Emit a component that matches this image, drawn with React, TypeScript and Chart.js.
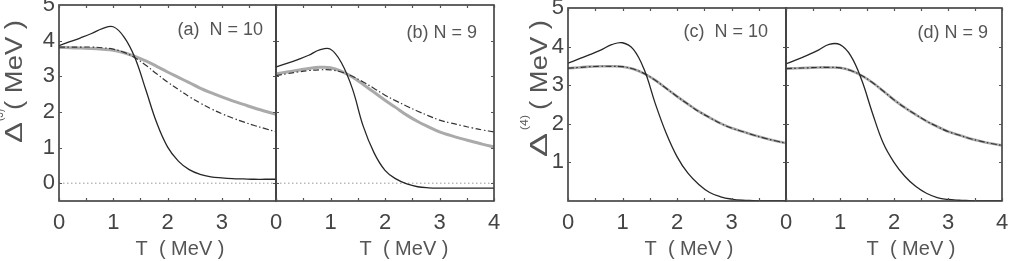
import React, { useEffect, useRef } from 'react';
import { Chart, registerables } from 'chart.js';

Chart.register(...registerables);

// ---------- data ----------
const T = [0, 0.2, 0.4, 0.6, 0.8, 1.0, 1.2, 1.4, 1.6, 1.8, 2.0, 2.2, 2.4, 2.6, 2.8, 3.0, 3.2, 3.4, 3.6, 3.8, 4.0];

const aSolid = [3.86, 3.97, 4.08, 4.2, 4.34, 4.39, 4.1, 3.52, 2.62, 1.7, 1.02, 0.62, 0.38, 0.25, 0.18, 0.15, 0.13, 0.12, 0.11, 0.11, 0.11];
const aGray = [3.81, 3.8, 3.79, 3.78, 3.76, 3.73, 3.66, 3.56, 3.43, 3.28, 3.12, 2.97, 2.82, 2.67, 2.54, 2.42, 2.31, 2.21, 2.11, 2.02, 1.93];
const aDashDot = [3.82, 3.82, 3.82, 3.82, 3.8, 3.76, 3.67, 3.52, 3.31, 3.07, 2.84, 2.63, 2.43, 2.25, 2.09, 1.95, 1.83, 1.72, 1.62, 1.53, 1.44];

const bSolid = [3.26, 3.36, 3.47, 3.59, 3.74, 3.76, 3.38, 2.66, 1.6, 0.85, 0.36, 0.12, -0.02, -0.1, -0.13, -0.14, -0.14, -0.14, -0.14, -0.14, -0.14];
const bGray = [3.07, 3.12, 3.17, 3.22, 3.25, 3.24, 3.14, 2.98, 2.77, 2.55, 2.33, 2.12, 1.91, 1.73, 1.58, 1.44, 1.34, 1.25, 1.17, 1.09, 1.02];
const bDashDot = [3.02, 3.07, 3.12, 3.16, 3.18, 3.18, 3.12, 3.0, 2.84, 2.66, 2.47, 2.31, 2.16, 2.02, 1.89, 1.77, 1.69, 1.62, 1.55, 1.49, 1.44];

const cSolid = [3.57, 3.68, 3.79, 3.91, 4.05, 4.1, 3.93, 3.4, 2.53, 1.76, 1.15, 0.72, 0.43, 0.22, 0.11, 0.05, 0.02, 0.01, 0.0, 0.0, 0.0];
const cGray = [3.44, 3.46, 3.48, 3.49, 3.49, 3.48, 3.42, 3.3, 3.13, 2.92, 2.71, 2.51, 2.32, 2.16, 2.01, 1.89, 1.8, 1.71, 1.63, 1.56, 1.5];
const cDashDot = [3.44, 3.46, 3.48, 3.49, 3.49, 3.48, 3.42, 3.3, 3.13, 2.92, 2.71, 2.51, 2.32, 2.16, 2.01, 1.89, 1.8, 1.71, 1.63, 1.56, 1.5];

const dSolid = [3.55, 3.66, 3.78, 3.91, 4.06, 4.05, 3.76, 3.14, 2.28, 1.5, 1.0, 0.64, 0.38, 0.2, 0.09, 0.04, 0.02, 0.01, 0.0, 0.0, 0.0];
const dGray = [3.43, 3.44, 3.45, 3.46, 3.46, 3.45, 3.38, 3.25, 3.07, 2.85, 2.62, 2.42, 2.24, 2.07, 1.93, 1.8, 1.71, 1.62, 1.55, 1.49, 1.44];
const dDashDot = [3.43, 3.44, 3.45, 3.46, 3.46, 3.45, 3.38, 3.25, 3.07, 2.85, 2.62, 2.42, 2.24, 2.07, 1.93, 1.8, 1.71, 1.62, 1.55, 1.49, 1.44];

const zeroT = [0, 4];
const zeroLine = [0, 0];

const xTicks = [0, 1, 2, 3, 4];
const xMinorTicks = [0, 0.5, 1, 1.5, 2, 2.5, 3, 3.5, 4];
const yTicks3 = [0, 1, 2, 3, 4, 5];
const yTicks4 = [1, 2, 3, 4, 5];
const yMarks3 = [0, 1, 2, 3, 4];
const yMarks4 = [1, 2, 3, 4];

const panelLabels = ['(a)  N = 10', '(b) N = 9', '(c)  N = 10', '(d) N = 9'];
const xTitle = 'T  ( MeV )';
const yTitleMain = '( MeV )';
const yTitleDelta = 'Δ';
const yTitleSup3 = '(3)';
const yTitleSup4 = '(4)';

// ---------- layout / style ----------
const FONT = '"Liberation Sans", Arial, sans-serif';
const TXT = '#555';

type YTitle = { sup: string; baseX: number; deltaStart: number; deltaLen: number; supStart: number; supLen: number; mainStart: number; mainEnd: number };
type Panel = {
  label: string; left: number; yWidth: number; right: number; top: number;
  yMin: number; yMax: number; yTicks: number[]; yMarks: number[]; showYLabels: boolean; hideLastX: boolean;
  labelRight: number; labelBase: number; xTitleCenter: number;
  solid: number[]; gray: number[]; dashDot: number[]; zero: boolean; grayColor: string; grayWidth: number;
  yTitle?: YTitle;
};

const panels: Panel[] = [
  { label: panelLabels[0], left: 0, yWidth: 59, right: 276, top: 5, yMin: -0.5, yMax: 5, yTicks: yTicks3, yMarks: yMarks3, showYLabels: true, hideLastX: true,
    labelRight: 263, labelBase: 35, xTitleCenter: 180, solid: aSolid, gray: aGray, dashDot: aDashDot, zero: true, grayColor: '#aaaaaa', grayWidth: 3,
    yTitle: { sup: yTitleSup3, baseX: 22, deltaStart: 143, deltaLen: 21, supStart: 121, supLen: 12, mainStart: 110, mainEnd: 20 } },
  { label: panelLabels[1], left: 276, yWidth: 0, right: 494, top: 5, yMin: -0.5, yMax: 5, yTicks: yTicks3, yMarks: yMarks3, showYLabels: false, hideLastX: false,
    labelRight: 477, labelBase: 38, xTitleCenter: 404, solid: bSolid, gray: bGray, dashDot: bDashDot, zero: true, grayColor: '#aaaaaa', grayWidth: 3 },
  { label: panelLabels[2], left: 0, yWidth: 568, right: 786, top: 8, yMin: 0, yMax: 5, yTicks: yTicks4, yMarks: yMarks4, showYLabels: true, hideLastX: true,
    labelRight: 768, labelBase: 37, xTitleCenter: 689, solid: cSolid, gray: cGray, dashDot: cDashDot, zero: false, grayColor: '#a8a8a8', grayWidth: 2.6,
    yTitle: { sup: yTitleSup4, baseX: 547, deltaStart: 157, deltaLen: 24, supStart: 130, supLen: 15, mainStart: 110, mainEnd: 20 } },
  { label: panelLabels[3], left: 786, yWidth: 0, right: 1002, top: 8, yMin: 0, yMax: 5, yTicks: yTicks4, yMarks: yMarks4, showYLabels: false, hideLastX: false,
    labelRight: 988, labelBase: 38, xTitleCenter: 911, solid: dSolid, gray: dGray, dashDot: dDashDot, zero: false, grayColor: '#a8a8a8', grayWidth: 2.6 },
];

const W = 1013;
const H = 261;
const BOTTOM = 201;

function fitText(ctx: CanvasRenderingContext2D, text: string, start: number, len: number, yOff: number, font: string) {
  ctx.save();
  ctx.font = font;
  const w = ctx.measureText(text).width;
  ctx.translate(start, yOff);
  ctx.scale(len / w, 1);
  ctx.textAlign = 'left';
  ctx.textBaseline = 'alphabetic';
  ctx.fillText(text, 0, 0);
  ctx.restore();
}

const framePlugin = {
  id: 'frame',
  afterDatasetsDraw(chart: any, _args: any, opts: any) {
    const p: Panel = opts.panel;
    const { ctx, chartArea: ca } = chart;
    const x = chart.scales.x;
    const y = chart.scales.y;
    ctx.save();
    ctx.strokeStyle = '#3c3c3c';
    ctx.lineWidth = 1.6;
    ctx.strokeRect(ca.left, ca.top, ca.right - ca.left, ca.bottom - ca.top);
    ctx.strokeStyle = '#555';
    ctx.lineWidth = 1.2;
    ctx.beginPath();
    for (const v of xMinorTicks) {
      const px = Math.round(x.getPixelForValue(v)) + 0.5;
      ctx.moveTo(px, ca.top); ctx.lineTo(px, ca.top + 3);
      ctx.moveTo(px, ca.bottom); ctx.lineTo(px, ca.bottom - 3);
    }
    for (const v of p.yMarks) {
      const py = Math.round(y.getPixelForValue(v)) + 0.5;
      ctx.moveTo(ca.left, py); ctx.lineTo(ca.left + 3, py);
      ctx.moveTo(ca.right, py); ctx.lineTo(ca.right - 3, py);
    }
    ctx.stroke();
    ctx.restore();
  },
  afterDraw(chart: any, _args: any, opts: any) {
    const p: Panel = opts.panel;
    const ctx: CanvasRenderingContext2D = chart.ctx;
    ctx.save();
    ctx.fillStyle = TXT;
    ctx.font = `18px ${FONT}`;
    ctx.textAlign = 'right';
    ctx.textBaseline = 'alphabetic';
    ctx.fillText(p.label, p.labelRight, p.labelBase);
    ctx.font = `20px ${FONT}`;
    ctx.textAlign = 'center';
    ctx.fillText(xTitle, p.xTitleCenter, 255);
    if (p.yTitle) {
      const t = p.yTitle;
      ctx.save();
      ctx.translate(t.baseX, 0);
      ctx.rotate(-Math.PI / 2);
      fitText(ctx, yTitleDelta, -t.deltaStart, t.deltaLen, 0, `23px ${FONT}`);
      fitText(ctx, t.sup, -t.supStart, t.supLen, -19, `11px ${FONT}`);
      fitText(ctx, yTitleMain, -t.mainStart, t.mainStart - t.mainEnd, 0, `23px ${FONT}`);
      ctx.restore();
    }
    ctx.restore();
  },
};

function pts(xs: number[], ys: number[]) {
  return xs.map((x, i) => ({ x, y: ys[i] }));
}

function makeChart(canvas: HTMLCanvasElement, p: Panel) {
  const datasets: any[] = [
    { data: pts(T, p.solid), borderColor: '#262626', borderWidth: 1.3, tension: 0.4 },
    { data: pts(T, p.dashDot), borderColor: '#333', borderWidth: 1.2, borderDash: [6, 2.5, 1.5, 2.5], tension: 0.4 },
    { data: pts(T, p.gray), borderColor: p.grayColor, borderWidth: p.grayWidth, tension: 0.4 },
  ];
  if (p.zero) {
    datasets.push({ data: pts(zeroT, zeroLine), borderColor: '#999', borderWidth: 1, borderDash: [1.5, 2.5], tension: 0 });
  }
  datasets.forEach((d) => {
    d.pointRadius = 0;
    d.fill = false;
  });
  return new Chart(canvas, {
    type: 'line',
    data: { datasets },
    options: {
      responsive: false,
      maintainAspectRatio: false,
      devicePixelRatio: 1,
      animation: false,
      events: [],
      layout: { padding: { left: p.left, right: W - p.right, top: p.top, bottom: 0 } },
      plugins: { legend: { display: false }, tooltip: { enabled: false }, frame: { panel: p } } as any,
      scales: {
        x: {
          type: 'linear', min: 0, max: 4,
          grid: { display: false, drawTicks: false },
          border: { display: false },
          afterBuildTicks: (s: any) => { s.ticks = xTicks.map((v) => ({ value: v })); },
          afterFit: (s: any) => { s.height = H - BOTTOM; s.paddingLeft = 0; s.paddingRight = 0; s.paddingTop = 0; s.paddingBottom = 0; },
          ticks: {
            padding: 9, maxRotation: 0, autoSkip: false, color: '#444',
            font: { family: FONT, size: 22 },
            callback: (v: any) => (p.hideLastX && Number(v) === 4 ? '' : String(v)),
          },
        },
        y: {
          type: 'linear', min: p.yMin, max: p.yMax,
          grid: { display: false, drawTicks: false },
          border: { display: false },
          afterBuildTicks: (s: any) => { s.ticks = p.yTicks.map((v) => ({ value: v })); },
          afterFit: (s: any) => { s.width = p.yWidth; s.paddingLeft = 0; s.paddingRight = 0; s.paddingTop = 0; s.paddingBottom = 0; },
          ticks: {
            display: p.showYLabels, padding: 4, color: '#444',
            font: { family: FONT, size: 22 },
            callback: (v: any) => String(v),
          },
        },
      },
    },
    plugins: [framePlugin as any],
  });
}

export default function App() {
  const refs = useRef<(HTMLCanvasElement | null)[]>([]);
  useEffect(() => {
    const charts = panels.map((p, i) => makeChart(refs.current[i] as HTMLCanvasElement, p));
    return () => charts.forEach((c) => c.destroy());
  }, []);
  return (
    <div style={{ position: 'absolute', left: 0, top: 0, width: W, height: H, background: '#fff', overflow: 'hidden' }}>
      {panels.map((p, i) => (
        <canvas
          key={i}
          ref={(el) => { refs.current[i] = el; }}
          width={W}
          height={H}
          style={{ position: 'absolute', left: 0, top: 0, width: W, height: H }}
        />
      ))}
    </div>
  );
}
